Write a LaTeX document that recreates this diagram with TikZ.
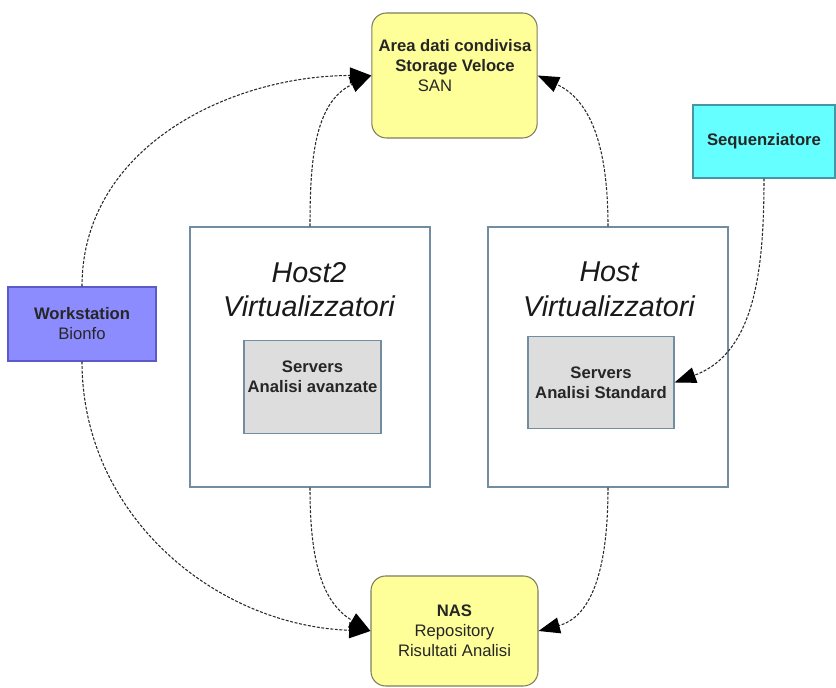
\documentclass[tikz,border=0pt]{standalone}
\usepackage{fontspec}
\setmainfont{Liberation Sans}
\usetikzlibrary{arrows.meta}

\definecolor{boxedge}{RGB}{114,140,160}
\definecolor{storefill}{RGB}{255,255,153}
\definecolor{storeedge}{RGB}{125,125,95}
\definecolor{seqfill}{RGB}{102,255,255}
\definecolor{seqedge}{RGB}{70,150,165}
\definecolor{wsfill}{RGB}{140,140,255}
\definecolor{wsedge}{RGB}{90,90,200}
\definecolor{srvfill}{RGB}{221,221,221}
\definecolor{linkgray}{RGB}{40,40,40}

\begin{document}
\begin{tikzpicture}
    [
    x=0.75pt, y=0.75pt,
    txt/.style={font=\fontsize{12.5}{15}\selectfont, align=center, text=black!85},
    title/.style={font=\fontsize{21.5}{26}\selectfont\itshape, align=center, text=black!90},
    store/.style={rectangle, rounded corners=11pt, draw=storeedge, fill=storefill, line width=0.8pt, inner sep=0pt, minimum width=124pt},
    host/.style={rectangle, draw=boxedge, fill=white, line width=0.9pt, inner sep=0pt, minimum width=180pt, minimum height=195pt},
    server/.style={rectangle, draw=boxedge, fill=srvfill, line width=0.9pt, inner sep=0pt, minimum height=69.5pt},
    link/.style={draw=linkgray, line width=0.8pt, dash pattern=on 2.2pt off 1.2pt, -{Triangle[length=16pt,width=12pt,fill=black,color=black]}}
    ]
    \useasboundingbox (0,0) rectangle (836,688);
    % storage
    \node (san) at (454.5,612.5) [store, minimum height=93.75pt] {};
    \node (santxt) at (455,622) [txt] {\textbf{Area dati condivisa}\\\textbf{Storage Veloce}\\SAN\hspace*{30pt}};
    \node (nas) at (454.5,57) [store, minimum width=125.25pt, minimum height=82.5pt, txt] {\textbf{NAS}\\Repository\\Risultati Analisi};
    % sources
    \node (seq) at (764,546.5) [rectangle, draw=seqedge, fill=seqfill, line width=0.8pt, inner sep=0pt, minimum width=106.5pt, minimum height=54.75pt, txt] {\textbf{Sequenziatore}};
    \node (ws) at (82,364) [rectangle, draw=wsedge, fill=wsfill, line width=0.8pt, inner sep=0pt, minimum width=111pt, minimum height=55.5pt, txt] {\textbf{Workstation}\\Bionfo};
    % hosts
    \node (host2) at (310,331) [host] {};
    \node (host2txt) at (309,398.5) [title] {Host2\\Virtualizzatori};
    \node (srvadv) at (312.5,301) [server, minimum width=102.75pt] {};
    \node (srvadvtxt) at (312.5,311) [txt] {\textbf{Servers}\\\textbf{Analisi avanzate}};
    \node (host) at (608,331) [host] {};
    \node (hosttxt) at (609,398.5) [title] {Host\\Virtualizzatori};
    \node (srvstd) at (601,305.5) [server, minimum width=109.5pt, txt] {\textbf{Servers}\\\textbf{Analisi Standard}};
    % links
    \draw [link] (ws.north) to[out=90,in=180] (san.west);
    \draw [link] (host2.north) to[out=90,in=205] (san.west);
    \draw [link] (host.north) to[out=90,in=-25] (san.east);
    \draw [link] (seq.south) to[out=-90,in=20] (srvstd.east);
    \draw [link] (ws.south) to[out=-90,in=178] (nas.west);
    \draw [link] (host2.south) to[out=-90,in=150] (nas.west);
    \draw [link] (host.south) to[out=-90,in=15] (nas.east);
\end{tikzpicture}
\end{document}
